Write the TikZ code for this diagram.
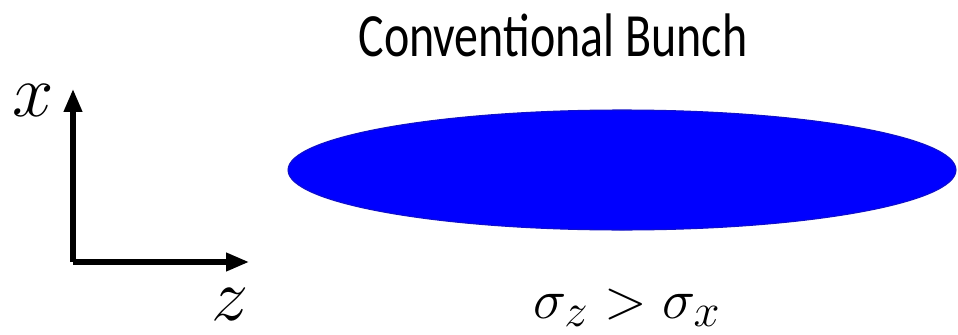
\documentclass[tikz,border=0pt]{standalone}
\usepackage{fontspec}
\newfontfamily\titlefont{Carlito}
\usepackage{xcolor}
\definecolor{bunchBlue}{HTML}{0000FF}
\definecolor{bunchEdge}{HTML}{1010C8}
\usetikzlibrary{arrows.meta, positioning}

\begin{document}
\begin{tikzpicture}[
    x=0.02cm, y=-0.02cm,
    axis/.style={line width=2.9pt, -{Triangle[length=13pt, width=10pt]}},
    axlabel/.style={font=\Huge, scale=1.7, inner sep=0pt, anchor=base},
    ratiolabel/.style={font=\Huge, scale=1.28, inner sep=0pt, anchor=base},
    title/.style={font=\titlefont\fontsize{35}{40}\selectfont, inner sep=0pt,
                  anchor=base, xscale=0.78}
]
\useasboundingbox (0,0) rectangle (958,335);
% Axes
\coordinate (O) at (73,262);
\coordinate (Xtip) at (73,89);
\coordinate (Ztip) at (249,262);
\draw[axis] (O) -- (Xtip);
\draw[axis] (O) -- (Ztip);
\node[axlabel] (xlab) at (33,116) {$x$};
\node[axlabel] (zlab) at (230,320) {$z$};
% Bunch
\fill[bunchBlue, draw=bunchEdge, line width=0.6pt] (622,170) ellipse [x radius=334, y radius=60];
\node[title] (head) at (553,56) {Conventional Bunch};
\node[ratiolabel] (ratio) at (627,318) {$\sigma_z > \sigma_x$};
\end{tikzpicture}
\end{document}
